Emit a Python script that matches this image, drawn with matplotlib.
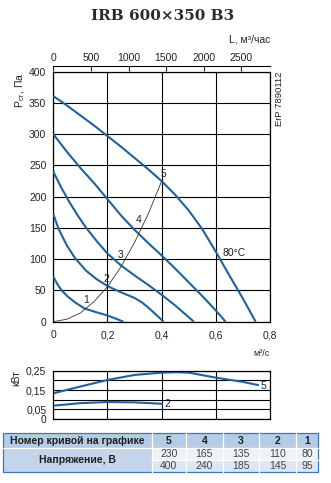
import matplotlib
matplotlib.use("Agg")
import matplotlib.pyplot as plt
from matplotlib.patches import Rectangle

plt.rcParams['font.family'] = ['Liberation Sans', 'DejaVu Sans']

# ---------------- data ----------------
q1 = [0, 0.015, 0.031, 0.054, 0.08, 0.116, 0.16, 0.2, 0.23, 0.259]
p1 = [72, 60, 50, 40, 31, 21, 15, 10, 5, 0]
q2 = [0, 0.02, 0.05, 0.08, 0.12, 0.16, 0.2, 0.25, 0.3, 0.33, 0.36, 0.385, 0.407]
p2 = [172, 148, 122, 102, 82, 68, 57, 47, 38, 30, 19, 9, 0]
q3 = [0, 0.03, 0.06, 0.09, 0.12, 0.16, 0.2, 0.25, 0.3, 0.35, 0.4, 0.45, 0.519]
p3 = [240, 214, 191, 170, 151, 129, 109, 90, 74, 59, 43, 26, 0]
q4 = [0, 0.05, 0.1, 0.15, 0.2, 0.25, 0.3, 0.35, 0.4, 0.45, 0.5, 0.55, 0.6, 0.636]
p4 = [300, 272, 246, 222, 196, 170, 147, 126, 106, 85, 63, 41, 18, 0]
q5 = [0, 0.05, 0.1, 0.15, 0.2, 0.25, 0.3, 0.35, 0.4, 0.45, 0.5, 0.55, 0.6, 0.65, 0.7, 0.747]
p5 = [361, 346, 330, 314, 297, 280, 262, 244, 225, 203, 178, 148, 112, 74, 37, 0]
curves_q = [q1, q2, q3, q4, q5]
curves_p = [p1, p2, p3, p4, p5]

# system (working) curve
qs = [0, 0.05, 0.1, 0.15, 0.2, 0.25, 0.3, 0.35, 0.4]
ps = [0, 4, 14, 32, 56, 88, 127, 172, 225]

# curve number labels positions on the system curve
lab_names = ['1', '2', '3', '4', '5']
lab_q = [0.121, 0.197, 0.249, 0.315, 0.407]
lab_p = [35, 68, 106, 163, 237]

# power curves
pw5_q = [0, 0.1, 0.2, 0.3, 0.4, 0.457, 0.5, 0.6, 0.7, 0.755]
pw5_v = [0.133, 0.168, 0.202, 0.228, 0.240, 0.242, 0.240, 0.214, 0.192, 0.176]
pw2_q = [0, 0.1, 0.2, 0.3, 0.4]
pw2_v = [0.069, 0.082, 0.088, 0.086, 0.079]

x_ticks = [0, 0.2, 0.4, 0.6, 0.8]
x_ticklabels = ['0', '0,2', '0,4', '0,6', '0,8']
y_ticks = [0, 50, 100, 150, 200, 250, 300, 350, 400]
top_ticks = [0, 500, 1000, 1500, 2000, 2500]
pw_ticks = [0, 0.05, 0.10, 0.15, 0.20, 0.25]
pw_ticklabels = ['0', '0,05', '', '0,15', '', '0,25']

tbl_header = ['Номер кривой на графике', '5', '4', '3', '2', '1']
tbl_row_label = 'Напряжение, В'
tbl_v1 = ['230', '165', '135', '110', '80']
tbl_v2 = ['400', '240', '185', '145', '95']

# ---------------- figure ----------------
W, H = 331, 483
fig = plt.figure(figsize=(W / 100, H / 100), dpi=100)

def fx(px):
    return px / W

def fy(py):
    return 1 - py / H

blue = '#1f62a0'

ax = fig.add_axes([fx(53.3), fy(321.7), fx(270) - fx(53.3), fy(71.7) - fy(321.7)])
ax.set_xlim(0, 0.8)
ax.set_ylim(0, 400)
for q, p in zip(curves_q, curves_p):
    ax.plot(q, p, color=blue, lw=1.5, solid_capstyle='butt', solid_joinstyle='round', zorder=3)
ax.plot(qs, ps, color='#333333', lw=0.6, zorder=4)
for n, xq, yp in zip(lab_names, lab_q, lab_p):
    ax.text(xq, yp, n, fontsize=7.5, ha='center', va='center', color='#222222', zorder=5)
ax.text(0.626, 110, '80°C', fontsize=7.5, ha='left', va='center', color='#222222')

ax.set_xticks(x_ticks)
ax.set_xticklabels(x_ticklabels)
ax.set_yticks(y_ticks)
ax.tick_params(axis='both', length=0, labelsize=7.5, colors='#222222')
ax.tick_params(axis='x', pad=6)
ax.tick_params(axis='y', pad=5)
ax.grid(True, color='black', lw=0.8)
for s in ax.spines.values():
    s.set_linewidth(0.9)

sec = ax.secondary_xaxis(1.024, functions=(lambda q: q * 3600, lambda l: l / 3600))
sec.set_xticks(top_ticks)
sec.tick_params(direction='in', length=3.5, width=0.8, labelsize=7.5, pad=2, colors='#222222')
sec.spines['top'].set_linewidth(0.8)

# power axes
axp = fig.add_axes([fx(53.3), fy(419), fx(270) - fx(53.3), fy(370.7) - fy(419)])
axp.set_xlim(0, 0.8)
axp.set_ylim(0, 0.25)
axp.plot(pw5_q, pw5_v, color=blue, lw=1.5, solid_joinstyle='round')
axp.plot(pw2_q, pw2_v, color=blue, lw=1.5, solid_joinstyle='round')
axp.text(pw5_q[-1] + 0.01, pw5_v[-1] - 0.003, '5', fontsize=7.5, ha='left', va='center', color='#222222')
axp.text(pw2_q[-1] + 0.012, pw2_v[-1] - 0.002, '2', fontsize=7.5, ha='left', va='center', color='#222222')
axp.set_xticks([0.2, 0.4, 0.6])
axp.set_xticklabels([])
axp.set_yticks(pw_ticks)
axp.set_yticklabels(pw_ticklabels)
axp.tick_params(axis='both', length=0, labelsize=7.5, colors='#222222')
axp.tick_params(axis='y', pad=5)
axp.grid(True, color='black', lw=0.8)
for s in axp.spines.values():
    s.set_linewidth(0.9)

# overlay for texts and table
ov = fig.add_axes([0, 0, 1, 1])
ov.set_xlim(0, W)
ov.set_ylim(H, 0)
ov.axis('off')
ov.patch.set_alpha(0)

ov.text(162.5, 16, 'IRB 600×350 B3', fontsize=11, fontweight='bold',
        family='DejaVu Serif', ha='center', va='center', color='#2b2b2b')
ov.text(270, 39.5, 'L, м³/час', fontsize=7.5, ha='right', va='center', color='#222222')
ov.text(20, 90, r'$\mathregular{P_{ст}}$, Па', fontsize=7.5, rotation=90, ha='center', va='center', color='#222222')
ov.text(279, 98.5, 'ErP 7890112', fontsize=6.8, rotation=90, ha='center', va='center', color='#222222')
ov.text(262, 354, 'м³/с', fontsize=6.5, ha='center', va='center', color='#222222')
ov.text(16.5, 378, 'кВт', fontsize=7.5, rotation=90, ha='center', va='center', color='#222222')

# table
t_top, t_h1, t_h2, t_bot = 433.3, 447.7, 460, 471.7
t_left, t_right = 3.3, 318.3
col_x = [151.7, 186, 222.5, 259.3, 296, 318.3]
hdr_bg = '#b7cbe5'
lbl_bg = '#c4d4eb'
r1_bg = '#eef2f9'
r2_bg = '#dde6f3'
ov.add_patch(Rectangle((t_left, t_top), t_right - t_left, t_h1 - t_top, fc=hdr_bg, ec='none'))
ov.add_patch(Rectangle((t_left, t_h1), col_x[0] - t_left, t_bot - t_h1, fc=lbl_bg, ec='none'))
ov.add_patch(Rectangle((col_x[0], t_h1), t_right - col_x[0], t_h2 - t_h1, fc=r1_bg, ec='none'))
ov.add_patch(Rectangle((col_x[0], t_h2), t_right - col_x[0], t_bot - t_h2, fc=r2_bg, ec='none'))
for xc in col_x[:-1]:
    ov.plot([xc, xc], [t_top, t_bot], color='white', lw=0.9)
ov.plot([t_left, t_right], [t_h1, t_h1], color='white', lw=0.9)
ov.plot([col_x[0], t_right], [t_h2, t_h2], color='white', lw=0.9)
ov.add_patch(Rectangle((t_left, t_top), t_right - t_left, t_bot - t_top, fc='none', ec='#3b78b8', lw=0.9))

ov.text((t_left + col_x[0]) / 2, (t_top + t_h1) / 2, tbl_header[0], fontsize=7.5,
        fontweight='bold', ha='center', va='center', color='#1e1e1e')
ov.text((t_left + col_x[0]) / 2, (t_h1 + t_bot) / 2, tbl_row_label, fontsize=7.5,
        fontweight='bold', ha='center', va='center', color='#1e1e1e')
for i in range(5):
    cx = (col_x[i] + col_x[i + 1]) / 2
    ov.text(cx, (t_top + t_h1) / 2, tbl_header[i + 1], fontsize=7.5, fontweight='bold',
            ha='center', va='center', color='#1e1e1e')
    ov.text(cx, (t_h1 + t_h2) / 2, tbl_v1[i], fontsize=7.5, ha='center', va='center', color='#444444')
    ov.text(cx, (t_h2 + t_bot) / 2, tbl_v2[i], fontsize=7.5, ha='center', va='center', color='#444444')

fig.savefig('out.png', dpi=100)
